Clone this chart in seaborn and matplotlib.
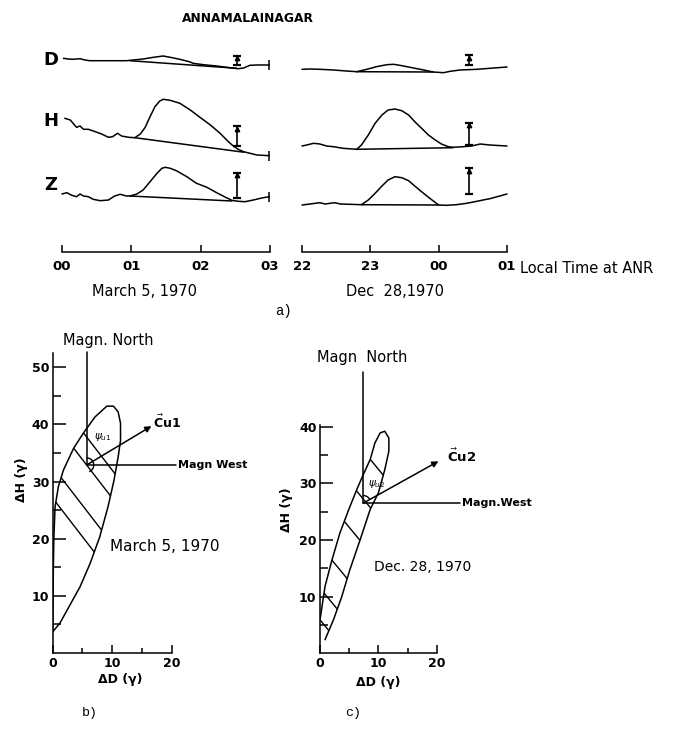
import numpy as np
import matplotlib
matplotlib.use("Agg")
import matplotlib.pyplot as plt
from matplotlib.patches import Polygon, Arc
import seaborn as sns

sns.set_theme(style="ticks", rc={"axes.edgecolor": "black", "xtick.color": "black",
                                 "ytick.color": "black", "text.color": "black",
                                 "axes.labelcolor": "black", "axes.linewidth": 1.1})
plt.rcParams["font.family"] = ["DejaVu Sans"]
plt.rcParams["mathtext.fontset"] = "dejavusans"

# ---------------- a) magnetograms: time (h) and deflection (chart units) ----------------
mar_time_D = [0.02, 0.09, 0.16, 0.26, 0.33, 0.40, 0.50, 0.65, 0.79, 0.93, 1.03, 1.17, 1.32,
              1.46, 1.56, 1.70, 1.85, 1.89, 2.04, 2.23, 2.42, 2.54, 2.62, 2.71, 2.81, 2.99]
mar_D = [1.7, 1.0, 0.7, 1.3, 0.0, -0.7, -0.7, -0.7, -0.7, -0.7, 0.0, 1.0, 2.7,
         4.0, 2.7, 0.7, -2.0, -3.3, -4.7, -6.0, -7.7, -8.7, -8.0, -5.3, -5.0, -5.0]
mar_time_H = [0.04, 0.12, 0.16, 0.21, 0.26, 0.31, 0.38, 0.48, 0.57, 0.67, 0.73, 0.80, 0.86,
              0.96, 1.05, 1.13, 1.20, 1.27, 1.34, 1.41, 1.46, 1.56, 1.70, 1.85, 1.99, 2.14,
              2.28, 2.40, 2.47, 2.54, 2.62, 2.81, 2.99]
mar_H = [11.7, 10.0, 6.7, 2.7, 4.0, 0.7, 0.7, -1.7, -4.0, -7.3, -6.7, -3.3, -6.0,
         -7.3, -7.7, -4.0, 2.7, 13.3, 23.3, 29.0, 30.7, 29.7, 26.7, 20.0, 12.7, 5.0,
         -3.3, -11.7, -16.0, -19.3, -21.7, -25.0, -25.7]
mar_time_Z = [0.00, 0.07, 0.14, 0.21, 0.26, 0.31, 0.38, 0.45, 0.55, 0.67, 0.76, 0.84, 0.93,
              0.98, 1.08, 1.17, 1.27, 1.37, 1.44, 1.49, 1.56, 1.65, 1.80, 1.94, 2.09, 2.23,
              2.38, 2.45, 2.54, 2.64, 2.76, 2.88, 2.99]
mar_Z = [1.0, 2.3, -0.3, -1.7, 1.0, -1.0, -1.7, -4.3, -5.7, -5.0, -1.0, 0.7, -1.0,
         -1.0, 1.0, 5.0, 13.3, 21.7, 26.7, 27.7, 26.7, 24.3, 18.3, 11.7, 7.7, 2.3,
         -3.0, -5.3, -6.3, -6.7, -5.0, -3.0, -1.7]
mar_base_time_D, mar_base_D = [0.98, 2.52], [-0.7, -8.3]
mar_base_time_H, mar_base_H = [1.05, 2.62], [-7.7, -22.2]
mar_base_time_Z, mar_base_Z = [0.98, 2.45], [-1.0, -6.0]
mar_bar_time = 2.52
mar_bar_D, mar_bar_H, mar_bar_Z = [-5.0, 4.3], [-16.0, 4.0], [-3.3, 22.3]

dec_time_D = [22.00, 22.12, 22.26, 22.46, 22.65, 22.80, 22.95, 23.09, 23.24, 23.34, 23.43,
              23.58, 23.78, 23.92, 24.07, 24.17, 24.31, 24.56, 24.75, 25.00]
dec_D = [0.7, 1.0, 0.7, 0.0, -1.0, -1.7, 0.7, 3.3, 5.3, 5.7, 4.7,
         2.7, 0.0, -2.0, -2.7, -1.3, 0.0, 0.7, 1.7, 3.0]
dec_time_H = [22.00, 22.07, 22.17, 22.26, 22.36, 22.46, 22.60, 22.80, 22.87, 22.97, 23.07,
              23.17, 23.26, 23.36, 23.46, 23.56, 23.65, 23.75, 23.85, 23.95, 24.04, 24.14,
              24.21, 24.36, 24.48, 24.61, 24.75, 25.00]
dec_H = [1.0, 2.0, 3.7, 3.0, 1.0, 0.3, -1.3, -2.3, 2.0, 12.0, 23.7,
         32.0, 37.0, 38.0, 36.3, 32.0, 25.3, 18.7, 12.0, 7.0, 3.0, 0.3,
         -0.3, 0.3, 1.0, 3.0, 2.0, 1.0]
dec_time_Z = [22.00, 22.12, 22.26, 22.34, 22.41, 22.48, 22.56, 22.70, 22.87, 22.97, 23.07,
              23.17, 23.26, 23.36, 23.46, 23.56, 23.65, 23.75, 23.87, 24.00, 24.12, 24.26,
              24.41, 24.56, 24.70, 24.75, 25.00]
dec_Z = [-1.0, 0.0, 1.3, 0.0, 0.7, 1.3, 0.0, -0.3, -0.7, 4.0, 10.7,
         18.0, 24.0, 27.3, 26.3, 23.3, 18.0, 12.3, 5.7, -1.0, -1.3, -0.7,
         0.7, 2.7, 4.7, 5.3, 10.0]
dec_base_time_D, dec_base_D = [22.80, 23.92], [-1.7, -2.0]
dec_base_time_H, dec_base_H = [22.80, 24.21], [-2.3, -0.7]
dec_base_time_Z, dec_base_Z = [22.87, 24.00], [-0.7, -1.0]
dec_bar_time = 24.45
dec_bar_D, dec_bar_H, dec_bar_Z = [5.0, 15.0], [2.0, 24.3], [10.0, 35.7]

mar_ticks, mar_ticklabels = [0, 1, 2, 3], ["00", "01", "02", "03"]
dec_ticks, dec_ticklabels = [22, 23, 24, 25], ["22", "23", "00", "01"]

# ---------------- b), c) hodographs: dD, dH in gamma ----------------
loop_b_dD = [0.0, 0.06, 0.1, 0.2, 0.4, 0.95, 1.8, 3.5, 5.1, 7.1, 9.1, 10.2, 11.0, 11.4,
             11.4, 11.0, 10.3, 9.3, 7.9, 6.3, 4.6, 2.9, 1.2, 0.0]
loop_b_dH = [3.7, 8.7, 14.5, 20.3, 25.6, 29.1, 32.0, 35.8, 38.4, 41.3, 43.2, 43.2, 42.2, 40.2,
             37.2, 34.3, 30.2, 25.6, 20.3, 15.7, 11.6, 8.4, 5.2, 3.7]
loop_c_dD = [0.0, 0.86, 2.0, 3.4, 4.9, 6.3, 7.4, 8.6, 9.4, 10.3, 11.1, 11.8, 11.8, 11.1,
             10.0, 8.6, 6.9, 5.1, 3.7, 2.3, 0.86]
loop_c_dH = [5.9, 11.8, 16.3, 21.2, 25.3, 28.9, 31.5, 34.2, 37.1, 38.9, 39.2, 38.0, 35.7, 32.4,
             28.3, 25.4, 20.1, 14.7, 9.9, 5.9, 2.4]
hatch_b_slope, hatch_b_levels = -1.35, [27.1, 32.6, 40.6, 45.5]
hatch_c_slope, hatch_c_levels = -1.25, [5.9, 11.5, 19.0, 28.5, 36.5, 45.0]
origin_b, north_top_b, west_end_b, cu1_tip = (5.7, 32.9), 52.7, 20.8, (16.6, 39.7)
origin_c, north_top_c, west_end_c, cu2_tip = (7.4, 26.5), 49.6, 24.0, (20.3, 33.9)

FIG_W, FIG_H = 678, 730
fig = plt.figure(figsize=(FIG_W / 100, FIG_H / 100), dpi=100, facecolor="white")


def frac(x0, y0, x1, y1):
    return [x0 / FIG_W, 1 - y1 / FIG_H, (x1 - x0) / FIG_W, (y1 - y0) / FIG_H]


LW = 1.1


def magnetogram(ax, traces, bar_t, ticks, ticklabels, xlim, end_ticks):
    ax.set_xlim(*xlim)
    ax.set_ylim(0, 212)
    for tt, vv, bt, bv, bar, off in traces:
        sns.lineplot(x=np.array(tt), y=np.array(vv) + off, ax=ax, color="black", lw=LW,
                     sort=False, estimator=None, clip_on=False)
        sns.lineplot(x=np.array(bt), y=np.array(bv) + off, ax=ax, color="black", lw=LW,
                     sort=False, estimator=None, clip_on=False)
        lo, hi = bar[0] + off, bar[1] + off
        ax.errorbar([bar_t], [(lo + hi) / 2], yerr=[[(hi - lo) / 2]], fmt="none",
                    ecolor="black", elinewidth=1.2, capsize=2.8, capthick=1.6)
        ax.plot([bar_t], [hi - 2.5], marker="^", ms=3.2, color="black")
        if end_ticks:
            ax.plot([tt[-1]], [vv[-1] + off], marker="|", ms=7, mew=1.1, color="black",
                    clip_on=False)
    for s in ("left", "right", "top"):
        ax.spines[s].set_visible(False)
    ax.set_yticks([])
    ax.set_xticks(ticks)
    ax.set_xticklabels(ticklabels, fontweight="bold", fontsize=9.5)
    ax.tick_params(axis="x", direction="in", length=5, width=1.1, pad=6)
    ax.set_xlabel("")
    ax.set_ylabel("")
    ax.patch.set_alpha(0)


axL = fig.add_axes(frac(62, 40, 270, 252))
magnetogram(axL, [
    (mar_time_D, mar_D, mar_base_time_D, mar_base_D, mar_bar_D, 192),
    (mar_time_H, mar_H, mar_base_time_H, mar_base_H, mar_bar_H, 122),
    (mar_time_Z, mar_Z, mar_base_time_Z, mar_base_Z, mar_bar_Z, 57),
], mar_bar_time, mar_ticks, mar_ticklabels, (0, 3), True)

axR = fig.add_axes(frac(302, 40, 507, 252))
magnetogram(axR, [
    (dec_time_D, dec_D, dec_base_time_D, dec_base_D, dec_bar_D, 182),
    (dec_time_H, dec_H, dec_base_time_H, dec_base_H, dec_bar_H, 105),
    (dec_time_Z, dec_Z, dec_base_time_Z, dec_base_Z, dec_bar_Z, 48),
], dec_bar_time, dec_ticks, dec_ticklabels, (22, 25), False)

fig.text(248 / FIG_W, 1 - 18 / FIG_H, "ANNAMALAINAGAR", ha="center", va="center",
         fontsize=8.8, fontweight="bold")
for lab, ypx in (("D", 60), ("H", 121), ("Z", 185)):
    fig.text(51 / FIG_W, 1 - ypx / FIG_H, lab, ha="center", va="center",
             fontsize=13, fontweight="bold")
fig.text(520 / FIG_W, 1 - 268 / FIG_H, "Local Time at ANR", ha="left", va="center",
         fontsize=10.5)
fig.text(145 / FIG_W, 1 - 292 / FIG_H, "March 5, 1970", ha="center", va="center",
         fontsize=10.5)
fig.text(395 / FIG_W, 1 - 292 / FIG_H, "Dec  28,1970", ha="center", va="center",
         fontsize=10.5)
fig.text(284 / FIG_W, 1 - 311 / FIG_H, "a)", ha="center", va="center",
         fontsize=10, family="Liberation Mono")


def hodograph(ax, dD, dH, slope, levels, origin, north_top, west_end, tip,
              ylim, yticks, ylabel_xy, xlabel_xy):
    ax.set_xlim(0, 20)
    ax.set_ylim(0, ylim)
    sns.lineplot(x=np.array(dD), y=np.array(dH), ax=ax, color="black", lw=LW,
                 sort=False, estimator=None)
    poly = Polygon(np.column_stack([dD, dH]), closed=True, facecolor="none",
                   edgecolor="none", transform=ax.transData)
    ax.add_patch(poly)
    xs = np.array([-5.0, 25.0])
    for c in levels:
        ln, = ax.plot(xs, c + slope * xs, color="black", lw=1.0)
        ln.set_clip_path(poly)
    ox, oy = origin
    ax.plot([ox, ox], [oy, north_top], color="black", lw=LW, clip_on=False)
    ax.plot([ox, west_end], [oy, oy], color="black", lw=LW, clip_on=False)
    ax.annotate("", xy=tip, xytext=origin,
                arrowprops=dict(arrowstyle="-|>", lw=LW, color="black",
                                mutation_scale=9, shrinkA=0, shrinkB=0),
                annotation_clip=False)
    for s in ("right", "top"):
        ax.spines[s].set_visible(False)
    ax.set_xticks([0, 10, 20])
    ax.set_xticks([5, 15], minor=True)
    ax.set_yticks(yticks)
    ax.set_yticks([v - 5 for v in yticks], minor=True)
    ax.set_xticklabels(["0", "10", "20"], fontweight="bold", fontsize=9)
    ax.set_yticklabels([str(v) for v in yticks], fontweight="bold", fontsize=9)
    ax.tick_params(axis="x", which="major", direction="in", length=6, width=1.1, pad=3)
    ax.tick_params(axis="x", which="minor", direction="in", length=3.5, width=1.1)
    ax.tick_params(axis="y", which="major", direction="in", length=9, width=1.1, pad=2.5)
    ax.tick_params(axis="y", which="minor", direction="in", length=5.5, width=1.1)
    ax.set_xlabel("ΔD (γ)", fontweight="bold", fontsize=9)
    ax.set_ylabel("ΔH (γ)", fontweight="bold", fontsize=9)
    ax.xaxis.set_label_coords(*xlabel_xy)
    ax.yaxis.set_label_coords(*ylabel_xy)
    ax.xaxis.label.set_va("center")
    ax.yaxis.label.set_va("center")
    ax.patch.set_alpha(0)


axB = fig.add_axes(frac(52.7, 353, 171.7, 653))
hodograph(axB, loop_b_dD, loop_b_dH, hatch_b_slope, hatch_b_levels, origin_b,
          north_top_b, west_end_b, cu1_tip, 52.5, [10, 20, 30, 40, 50],
          (-0.258, 0.577), (0.566, -0.09))
axB.add_patch(Arc(origin_b, 2.4, 2.5, theta1=-70, theta2=90, color="black", lw=1.0))
axB.text(9.3, 54.7, "Magn. North", ha="center", va="center", fontsize=10.5, clip_on=False)
axB.text(21.1, 32.9, "Magn West", ha="left", va="center", fontsize=8, fontweight="bold",
         clip_on=False)
axB.text(16.9, 40.4, r"$\vec{\mathbf{C}}\mathbf{u1}$", ha="left", va="center", fontsize=9,
         clip_on=False)
axB.text(6.9, 37.8, r"$\psi_{u1}$", ha="left", va="center", fontsize=7.5)
axB.text(18.8, 18.6, "March 5, 1970", ha="center", va="center", fontsize=11, clip_on=False)

axC = fig.add_axes(frac(320, 425, 436.7, 653.3))
hodograph(axC, loop_c_dD, loop_c_dH, hatch_c_slope, hatch_c_levels, origin_c,
          north_top_c, west_end_c, cu2_tip, 40.3, [10, 20, 30, 40],
          (-0.283, 0.628), (0.497, -0.13))
axC.add_patch(Arc(origin_c, 2.6, 2.7, theta1=25, theta2=90, color="black", lw=1.0))
axC.text(7.15, 52.2, "Magn  North", ha="center", va="center", fontsize=10.5, clip_on=False)
axC.text(24.3, 26.5, "Magn.West", ha="left", va="center", fontsize=8, fontweight="bold",
         clip_on=False)
axC.text(21.8, 34.8, r"$\vec{\mathbf{C}}\mathbf{u2}$", ha="left", va="center", fontsize=9.5,
         clip_on=False)
axC.text(8.3, 29.8, r"$\psi_{u2}$", ha="left", va="center", fontsize=7.5)
axC.text(17.6, 15.3, "Dec. 28, 1970", ha="center", va="center", fontsize=10, clip_on=False)

fig.text(90 / FIG_W, 1 - 713 / FIG_H, "b)", ha="center", va="center", fontsize=9.5,
         family="Liberation Mono")
fig.text(353 / FIG_W, 1 - 713 / FIG_H, "c)", ha="center", va="center", fontsize=9.5,
         family="Liberation Mono")

fig.savefig("out.png", dpi=100, facecolor="white")
